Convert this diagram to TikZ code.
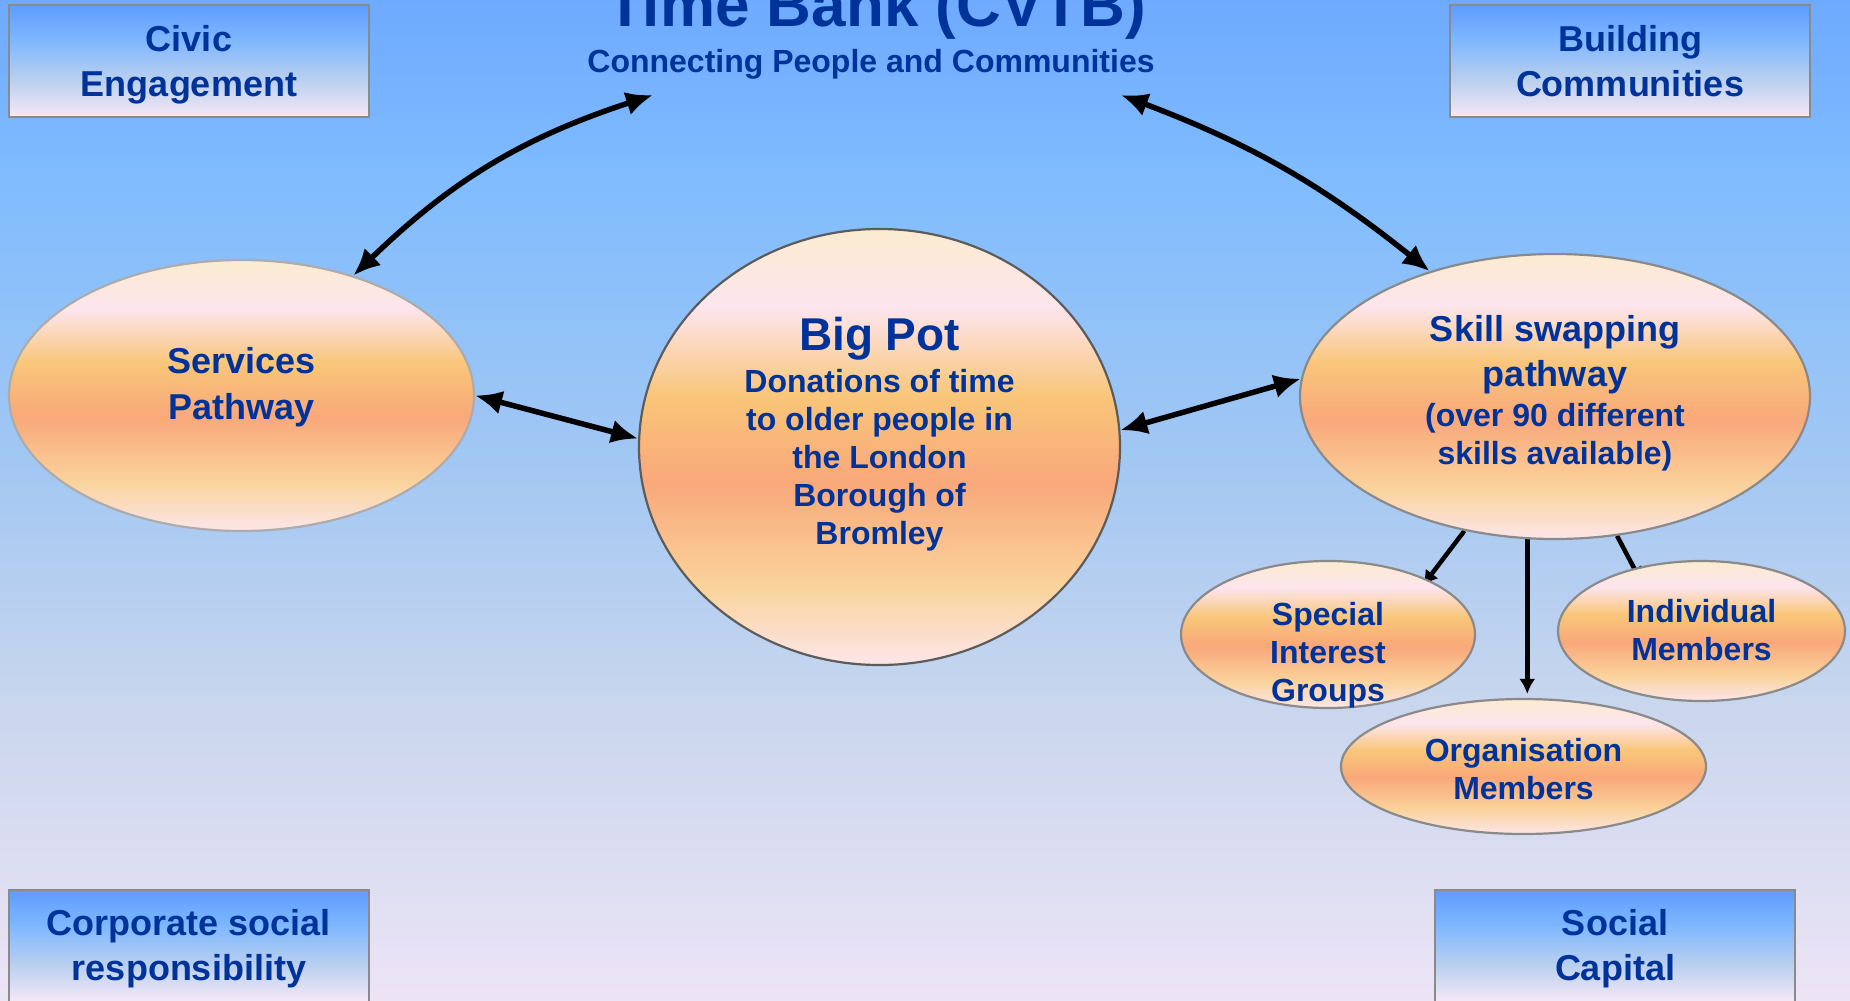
\documentclass[tikz,border=0pt]{standalone}
\usepackage{fontspec}
\setmainfont{Liberation Sans}
\usetikzlibrary{arrows.meta,shapes.geometric}

\definecolor{cvtbblue}{HTML}{003399}
\definecolor{rimgray}{HTML}{8A8A8A}
\definecolor{potrim}{HTML}{5C5C5C}
\definecolor{sky1}{HTML}{6EAAFE}
\definecolor{sky2}{HTML}{80BCFE}
\definecolor{sky3}{HTML}{A2C7F3}
\definecolor{sky4}{HTML}{C8D6EE}
\definecolor{sky5}{HTML}{EDE4F5}
\definecolor{pot1}{HTML}{FBEBD0}
\definecolor{pot2}{HTML}{FDE5EE}
\definecolor{pot3}{HTML}{F9C67A}
\definecolor{pot4}{HTML}{F9A87A}
\definecolor{pot5}{HTML}{FAD39C}
\definecolor{pot6}{HTML}{FCE6EA}
\definecolor{box1}{HTML}{5E9CFF}
\definecolor{box2}{HTML}{7CB6FF}
\definecolor{box3}{HTML}{B8CFEF}
\definecolor{box4}{HTML}{F6E8F6}

\pgfdeclareverticalshading{skyshade}{100bp}{color(0bp)=(sky5); color(25bp)=(sky5); color(40bp)=(sky4); color(52bp)=(sky3); color(66bp)=(sky2); color(75bp)=(sky1); color(100bp)=(sky1)}
\pgfdeclareverticalshading{potshade}{100bp}{color(0bp)=(pot6); color(25bp)=(pot6); color(34bp)=(pot5); color(46bp)=(pot4); color(56bp)=(pot3); color(66bp)=(pot2); color(75bp)=(pot1); color(100bp)=(pot1)}
\pgfdeclareverticalshading{boxshade}{100bp}{color(0bp)=(box4); color(25bp)=(box4); color(42bp)=(box3); color(60bp)=(box2); color(75bp)=(box1); color(100bp)=(box1)}

\pgfdeclarelayer{sky}
\pgfdeclarelayer{links}
\pgfsetlayers{sky,links,main}

\begin{document}
\begin{tikzpicture}[x=1pt,y=-1pt]

        \tikzset{themebox/.style={rectangle,draw=rimgray,line width=2.5pt,shading=boxshade,
                minimum width=360pt,minimum height=112pt,inner sep=0pt}}
        \tikzset{themetext/.style={text=cvtbblue,align=center,inner sep=0pt,
                font=\bfseries\fontsize{36}{45}\selectfont}}
        \tikzset{pathway/.style={ellipse,draw=rimgray,line width=2.2pt,shading=potshade,inner sep=0pt}}
        \tikzset{pathtext/.style={text=cvtbblue,align=center,inner sep=0pt,
                font=\bfseries\fontsize{32}{38}\selectfont}}
        \tikzset{bigarrow/.style={line width=5.5pt,{Latex[length=27pt,width=24pt]}-{Latex[length=27pt,width=24pt]}}}
        \tikzset{smallarrow/.style={line width=4.5pt,-{Latex[length=15pt,width=16pt]}}}

        \useasboundingbox (0,0) rectangle (1850,1001);
        \clip (0,0) rectangle (1850,1001);

        % Background
        \begin{pgfonlayer}{sky}
            \fill[shading=skyshade] (0,0) rectangle (1850,1001);
        \end{pgfonlayer}

        % Draw corner boxes
        \foreach \name/\cx/\cy/\dy/\txt in {civic/189/61/3.6/{Civic\\Engagement},
                building/1630/61/0/{Building\\Communities},
                corporate/189/946/2.8/{Corporate social\\responsibility},
                social/1615/946/2.8/{Social\\Capital}} {
            \node (\name) at (\cx,\cy) [themebox] {};
            \node (\name-text) at (\cx,\cy+\dy) [themetext] {\txt};
        }

        % Draw title
        \node (title) at (876,27) [anchor=base,text=cvtbblue,
            font=\bfseries\fontsize{62}{70}\selectfont] {Time Bank (CVTB)};
        \node (tagline) at (871,72) [anchor=base,text=cvtbblue,
            font=\bfseries\fontsize{32}{38}\selectfont] {Connecting People and Communities};
        \coordinate (tl) at (653,95);
        \coordinate (tr) at (1121,95);

        % Draw pathways
        \node (services) at (241.5,395.5) [pathway,draw=gray!65,minimum width=465pt,minimum height=271pt] {};
        \node (bigpot) at (879.5,447) [pathway,draw=potrim,minimum width=481pt,minimum height=436pt] {};
        \node (skill) at (1555,396.5) [pathway,minimum width=510pt,minimum height=285pt] {};
        \node (special) at (1328,634.5) [pathway,minimum width=294pt,minimum height=147pt] {};
        \node (individual) at (1701.5,631) [pathway,minimum width=287pt,minimum height=140pt] {};
        \node (organisation) at (1523.5,766.5) [pathway,minimum width=365pt,minimum height=135pt] {};

        \node (services-text) at (241.5,387.5) [pathtext,font=\bfseries\fontsize{36}{46}\selectfont] {Services\\Pathway};
        \node (bigpot-text) at (879.5,434.5) [pathtext] {{\fontsize{46}{50}\selectfont Big Pot}\\[4pt]Donations of time\\to older people in\\the London\\Borough of\\Bromley};
        \node (skill-text) at (1555,393.5) [pathtext] {{\fontsize{36}{45}\selectfont Skill swapping}\\[7pt]{\fontsize{36}{45}\selectfont pathway}\\[2pt](over 90 different\\skills available)};
        \node (special-text) at (1328,655) [pathtext] {Special\\Interest\\Groups};
        \node (individual-text) at (1701.5,630) [pathtext] {Individual\\Members};
        \node (organisation-text) at (1523.5,768.7) [pathtext] {Organisation\\Members};

        % Draw links
        \begin{pgfonlayer}{links}
            \draw[bigarrow] (services.47) to[bend left=13] (tl);
            \draw[bigarrow] (tr) to[bend left=9] (skill.135);
            \draw[bigarrow] (services.east) -- (bigpot.178);
            \draw[bigarrow] (bigpot.4) -- (skill.176);
            \draw[smallarrow,shorten >=-8pt] (skill.236) -- (special.29);
            \draw[smallarrow,shorten >=4pt] (skill.259) -- (skill.259 |- organisation.north);
            \draw[smallarrow,shorten >=-16pt] (skill.294) -- (individual.137);
        \end{pgfonlayer}

\end{tikzpicture}
\end{document}
